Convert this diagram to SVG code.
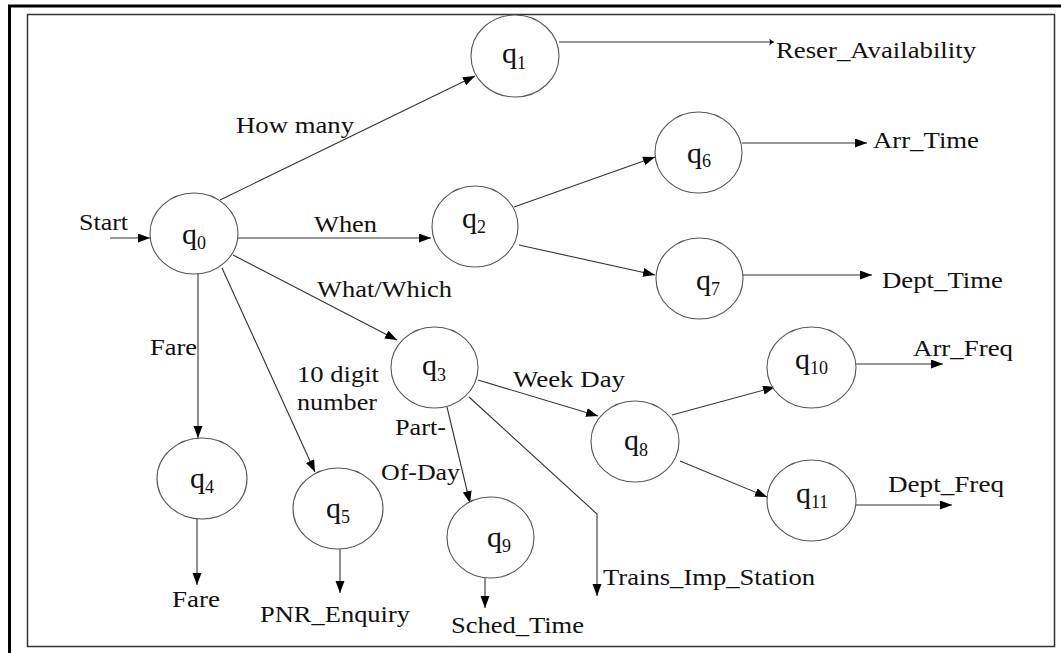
<svg xmlns="http://www.w3.org/2000/svg" width="1061" height="653" viewBox="0 0 1061 653">
<style>
.lbl{font-family:"Liberation Serif","Times New Roman",serif;font-size:23px;fill:#111}
.q{font-family:"Liberation Serif","Times New Roman",serif;font-size:30px;fill:#111}
.sub{font-size:18px}
.node ellipse{fill:#fff;stroke:#555;stroke-width:1.1}
.edge{fill:none;stroke:#333;stroke-width:1.1}
</style>
<defs>
<marker id="ah" markerUnits="userSpaceOnUse" markerWidth="12" markerHeight="10" refX="12" refY="4.5" orient="auto">
<path d="M0,0 L12,4.5 L0,9 z" fill="#000"/>
</marker>
<marker id="ahs" markerUnits="userSpaceOnUse" markerWidth="7" markerHeight="8" refX="5" refY="3.5" orient="auto">
<path d="M0,0 Q3,2.5 5,3.5 Q3,4.5 0,7 Q2,3.5 0,0 z" fill="#000"/>
</marker>
</defs>
<rect width="1061" height="653" fill="#fff"/>
<path d="M9.5,653 V6 H1061" fill="none" stroke="#000" stroke-width="3"/>
<rect x="27.5" y="14.5" width="1027" height="632" fill="none" stroke="#333" stroke-width="1.5"/>

<g id="connectors">
<path class="edge" d="M110,238 L150,238" marker-end="url(#ah)"/>
<path class="edge" d="M220,200 L475,76" marker-end="url(#ah)"/>
<path class="edge" d="M238,238 L431,238" marker-end="url(#ah)"/>
<path class="edge" d="M233,255 L397,340" marker-end="url(#ah)"/>
<path class="edge" d="M198,274 L198,438" marker-end="url(#ah)"/>
<path class="edge" d="M222,268 L315,472" marker-end="url(#ah)"/>
<path class="edge" d="M559,42 L774,42" marker-end="url(#ahs)"/>
<path class="edge" d="M514,207 L655,157" marker-end="url(#ah)"/>
<path class="edge" d="M519,245 L655,275" marker-end="url(#ah)"/>
<path class="edge" d="M742,143 L867,143" marker-end="url(#ah)"/>
<path class="edge" d="M743,275 L872,275" marker-end="url(#ah)"/>
<path class="edge" d="M478,380 L598,416" marker-end="url(#ah)"/>
<path class="edge" d="M447,407 L470,503" marker-end="url(#ah)"/>
<path class="edge" d="M469,397 L597,514 L597,596" marker-end="url(#ah)"/>
<path class="edge" d="M672,415 L775,387" marker-end="url(#ah)"/>
<path class="edge" d="M680,461 L767,497" marker-end="url(#ah)"/>
<path class="edge" d="M856,364 L943,364" marker-end="url(#ah)"/>
<path class="edge" d="M856,505 L952,505" marker-end="url(#ah)"/>
<path class="edge" d="M197,519 L197,585" marker-end="url(#ah)"/>
<path class="edge" d="M340,549 L340,593" marker-end="url(#ah)"/>
<path class="edge" d="M485,578 L485,608" marker-end="url(#ah)"/>
</g>

<g id="q0" class="node"><ellipse cx="194" cy="233.5" rx="44" ry="40.5"/><text class="q" x="182" y="244">q<tspan class="sub" dy="5">0</tspan></text></g>
<g id="q1" class="node"><ellipse cx="515" cy="56" rx="44" ry="41"/><text class="q" x="502" y="63">q<tspan class="sub" dy="6">1</tspan></text></g>
<g id="q2" class="node"><ellipse cx="475" cy="226.5" rx="43" ry="40.5"/><text class="q" x="462" y="228">q<tspan class="sub" dy="5">2</tspan></text></g>
<g id="q3" class="node"><ellipse cx="434.5" cy="367.5" rx="43.5" ry="40.5"/><text class="q" x="422" y="375">q<tspan class="sub" dy="6">3</tspan></text></g>
<g id="q4" class="node"><ellipse cx="202" cy="478.5" rx="45" ry="40.5"/><text class="q" x="190" y="488">q<tspan class="sub" dy="5">4</tspan></text></g>
<g id="q5" class="node"><ellipse cx="338" cy="508.5" rx="45" ry="40.5"/><text class="q" x="326" y="518">q<tspan class="sub" dy="5">5</tspan></text></g>
<g id="q6" class="node"><ellipse cx="698.5" cy="152.5" rx="43.5" ry="40.5"/><text class="q" x="687" y="163">q<tspan class="sub" dy="4">6</tspan></text></g>
<g id="q7" class="node"><ellipse cx="699.5" cy="278.5" rx="43.5" ry="40.5"/><text class="q" x="696" y="290">q<tspan class="sub" dy="5">7</tspan></text></g>
<g id="q8" class="node"><ellipse cx="635" cy="441.5" rx="44" ry="40.5"/><text class="q" x="624" y="450">q<tspan class="sub" dy="6">8</tspan></text></g>
<g id="q9" class="node"><ellipse cx="490.5" cy="537.5" rx="43.5" ry="40.5"/><text class="q" x="487" y="547">q<tspan class="sub" dy="5">9</tspan></text></g>
<g id="q10" class="node"><ellipse cx="811.5" cy="367.5" rx="44.5" ry="40.5"/><text class="q" x="795" y="369">q<tspan class="sub" dy="5">10</tspan></text></g>
<g id="q11" class="node"><ellipse cx="811.5" cy="500.5" rx="44.5" ry="40.5"/><text class="q" x="796" y="503">q<tspan class="sub" dy="5">11</tspan></text></g>

<g id="labels">
<text class="lbl" x="236" y="133" textLength="118" lengthAdjust="spacingAndGlyphs">How many</text>
<text class="lbl" x="776" y="58" textLength="200" lengthAdjust="spacingAndGlyphs">Reser_Availability</text>
<text class="lbl" x="873" y="148" textLength="106" lengthAdjust="spacingAndGlyphs">Arr_Time</text>
<text class="lbl" x="882" y="288" textLength="121" lengthAdjust="spacingAndGlyphs">Dept_Time</text>
<text class="lbl" x="913" y="356" textLength="100" lengthAdjust="spacingAndGlyphs">Arr_Freq</text>
<text class="lbl" x="888" y="492" textLength="116" lengthAdjust="spacingAndGlyphs">Dept_Freq</text>
<text class="lbl" x="79" y="230" textLength="49" lengthAdjust="spacingAndGlyphs">Start</text>
<text class="lbl" x="314" y="232" textLength="63" lengthAdjust="spacingAndGlyphs">When</text>
<text class="lbl" x="317" y="297" textLength="135" lengthAdjust="spacingAndGlyphs">What/Which</text>
<text class="lbl" x="150" y="355" textLength="47" lengthAdjust="spacingAndGlyphs">Fare</text>
<text class="lbl" x="297" y="382" textLength="82" lengthAdjust="spacingAndGlyphs">10 digit</text>
<text class="lbl" x="297" y="410" textLength="80" lengthAdjust="spacingAndGlyphs">number</text>
<text class="lbl" x="395" y="435" textLength="51" lengthAdjust="spacingAndGlyphs">Part-</text>
<text class="lbl" x="381" y="480" textLength="79" lengthAdjust="spacingAndGlyphs">Of-Day</text>
<text class="lbl" x="513" y="387" textLength="112" lengthAdjust="spacingAndGlyphs">Week Day</text>
<text class="lbl" x="603" y="585" textLength="212" lengthAdjust="spacingAndGlyphs">Trains_Imp_Station</text>
<text class="lbl" x="172" y="607" textLength="48" lengthAdjust="spacingAndGlyphs">Fare</text>
<text class="lbl" x="260" y="622" textLength="150" lengthAdjust="spacingAndGlyphs">PNR_Enquiry</text>
<text class="lbl" x="451" y="633" textLength="133" lengthAdjust="spacingAndGlyphs">Sched_Time</text>
</g>
</svg>
